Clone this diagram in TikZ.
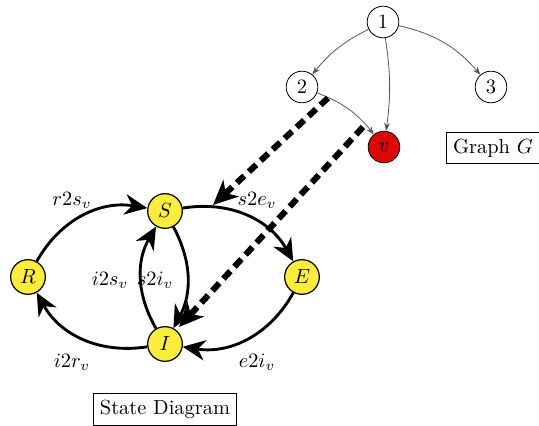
\documentclass[tikz,border=0pt]{standalone}
\definecolor{stateyellow}{RGB}{252,236,60}
\definecolor{nodered}{RGB}{218,8,8}
\usepackage{amsmath,amssymb}
\usepackage{tikz}
\usetikzlibrary{arrows.meta,positioning}

\tikzset{
    state/.style={circle, draw, semithick, fill=stateyellow, minimum size=17pt, inner sep=0pt},
    gnode/.style={circle, draw, thin, fill=white, minimum size=15.5pt, inner sep=0pt},
    trans/.style={-{Stealth[length=11pt, width=10pt, inset=3.5pt]}, line width=1.4pt},
    gedge/.style={-{Stealth[length=4pt, width=3pt]}, draw=black!65, thin},
    dashflow/.style={-{Stealth[length=12pt, width=11pt, inset=3.5pt]}, line width=3pt, dash pattern=on 5pt off 3pt},
    caption/.style={draw, thin, inner sep=3.3pt}
}

\begin{document}
\begin{tikzpicture}[x=0.49pt, y=0.49pt]
    \useasboundingbox (0,0) rectangle (539,426);

    % Graph G
    \node[gnode] (n1) at (383,404) {1};
    \node[gnode] (n2) at (302,339) {2};
    \node[gnode] (n3) at (491,339) {3};
    \node[gnode, fill=nodered] (v) at (384,279) {$v$};
    \node[caption] (graphG) at (493,278) {Graph $G$};

    \draw[gedge] (n1) to[bend right=12] (n2);
    \draw[gedge] (n1) to[bend left=8] (v);
    \draw[gedge] (n1) to[bend left=18] (n3);
    \draw[gedge] (n2) to[bend left=15] (v);

    % State diagram
    \node[state] (S) at (165,215) {$S$};
    \node[state] (E) at (302,149) {$E$};
    \node[state] (R) at (28,149) {$R$};
    \node[state] (I) at (165,82) {$I$};
    \node[caption] (stateD) at (165,17) {State Diagram};

    \draw[trans] (R) to[bend left=35] (S);
    \draw[trans] (S) to[bend left=35] (E);
    \draw[trans] (E) to[bend left=35] (I);
    \draw[trans] (I) to[bend left=35] (R);
    \draw[trans] (I) to[bend left=30] (S);
    \draw[trans] (S) to[bend left=28] (I);

    \node (r2s) at (72,226) {$r2s_v$};
    \node (s2e) at (257,226) {$s2e_v$};
    \node (i2s) at (110,146) {$i2s_v$};
    \node (s2i) at (155,146) {$s2i_v$};
    \node (i2r) at (72,64) {$i2r_v$};
    \node (e2i) at (257,64) {$e2i_v$};

    % Influence of the graph on the transitions
    \coordinate (d1a) at (328,328);
    \coordinate (d1b) at (213,221);
    \coordinate (d2a) at (363,299);
    \coordinate (d2b) at (179,99);
    \draw[dashflow] (d1a) -- (d1b);
    \draw[dashflow] (d2a) -- (d2b);
\end{tikzpicture}
\end{document}
